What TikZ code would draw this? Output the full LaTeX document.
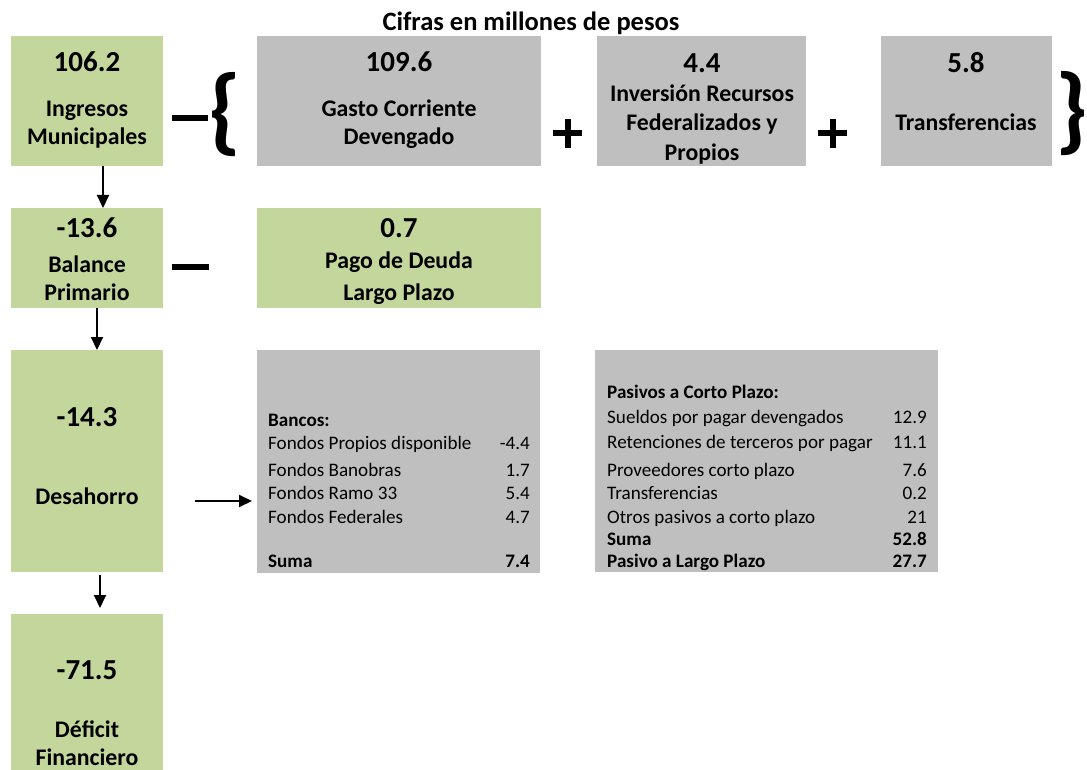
\documentclass[tikz,border=0pt]{standalone}
\usepackage{fontspec}
\setmainfont{Carlito}
\usetikzlibrary{arrows.meta}
\definecolor{boxgreen}{HTML}{C3D69B}
\definecolor{boxgray}{HTML}{BFBFBF}
\begin{document}
\begin{tikzpicture}[x=1pt,y=-1pt,
  box/.style={draw=none, inner sep=0pt, outer sep=0pt, anchor=north west},
  gbox/.style={box, fill=boxgreen},
  ybox/.style={box, fill=boxgray},
  txt/.style={inner sep=0pt, text depth=0pt},
  num/.style={txt, text height=18.6pt, font=\bfseries\fontsize{29}{34}\selectfont},
  lab/.style={txt, text height=15.3pt, font=\bfseries\fontsize{23.8}{28}\selectfont},
  ttl/.style={txt, text height=17pt, font=\bfseries\fontsize{26.5}{30}\selectfont},
  tb/.style={txt, text height=12.3pt, font=\fontsize{19.1}{23}\selectfont},
  tbb/.style={txt, text height=12.3pt, font=\bfseries\fontsize{19.1}{23}\selectfont},
  brc/.style={inner sep=0pt, font=\bfseries\fontsize{96}{96}\selectfont},
  arr/.style={line width=2pt, -{Triangle[length=13pt,width=12pt]}},
  sign/.style={line width=6pt},
]
\useasboundingbox (0,0) rectangle (1087,770);

% title
\node[ttl] (title) at (531,22) {Cifras en millones de pesos};

% top row
\node[gbox, minimum width=152pt, minimum height=130pt] (b1) at (11,36) {};
\node[num] (b1n) at (87,62) {106.2};
\node[lab] (b1a) at (87,109) {Ingresos};
\node[lab] (b1b) at (87,137) {Municipales};

\draw[sign] (172,118) -- (208,118);
\node[brc] (lbrace) at (225,115) {\makebox[16pt]{\{}};

\node[ybox, minimum width=284pt, minimum height=130pt] (g1) at (257,36) {};
\node[num] (g1n) at (399,62) {109.6};
\node[lab] (g1a) at (399,109) {Gasto Corriente};
\node[lab] (g1b) at (399,137) {Devengado};

\draw[sign] (553,133) -- (582,133) (567.5,119) -- (567.5,148);

\node[ybox, minimum width=209pt, minimum height=130pt] (g2) at (597,36) {};
\node[num] (g2n) at (702,63) {4.4};
\node[lab] (g2a) at (702,94) {Inversión Recursos};
\node[lab] (g2b) at (702,123) {Federalizados y};
\node[lab] (g2c) at (702,153) {Propios};

\draw[sign] (818,133) -- (847,133) (832.5,119) -- (832.5,148);

\node[ybox, minimum width=171pt, minimum height=130pt] (g3) at (881,36) {};
\node[num] (g3n) at (966,63) {5.8};
\node[lab] (g3a) at (966,123) {Transferencias};

\node[brc] (rbrace) at (1072,114) {\makebox[16pt]{\}}};

% second row
\node[gbox, minimum width=152pt, minimum height=100pt] (b2) at (11,208) {};
\node[num] (b2n) at (87,228) {-13.6};
\node[lab] (b2a) at (87,265) {Balance};
\node[lab] (b2b) at (87,293) {Primario};

\draw[sign] (172,267) -- (209,267);

\node[gbox, minimum width=284pt, minimum height=100pt] (p1) at (257,208) {};
\node[num] (p1n) at (399,228) {0.7};
\node[lab] (p1a) at (399,261) {Pago de Deuda};
\node[lab] (p1b) at (399,293) {Largo Plazo};

% third row
\node[gbox, minimum width=152pt, minimum height=222pt] (b3) at (11,350) {};
\node[num] (b3n) at (87,417) {-14.3};
\node[lab] (b3a) at (87,497) {Desahorro};

\node[ybox, minimum width=283pt, minimum height=223pt] (bk) at (257,350) {};
\node[tbb, anchor=west] (bk0) at (268,420) {Bancos:};
\node[tb, anchor=west] (bk1) at (268,443) {Fondos Propios disponible};
\node[tb, anchor=east] (bk1v) at (530,443) {-4.4};
\node[tb, anchor=west] (bk2) at (268,470) {Fondos Banobras};
\node[tb, anchor=east] (bk2v) at (530,470) {1.7};
\node[tb, anchor=west] (bk3) at (268,493) {Fondos Ramo 33};
\node[tb, anchor=east] (bk3v) at (530,493) {5.4};
\node[tb, anchor=west] (bk4) at (268,517) {Fondos Federales};
\node[tb, anchor=east] (bk4v) at (530,517) {4.7};
\node[tbb, anchor=west] (bk5) at (268,561) {Suma};
\node[tbb, anchor=east] (bk5v) at (530,561) {7.4};

\node[ybox, minimum width=343pt, minimum height=222pt] (pv) at (595,350) {};
\node[tbb, anchor=west] (pv0) at (607,392) {Pasivos a Corto Plazo:};
\node[tb, anchor=west] (pv1) at (607,417) {Sueldos por pagar devengados};
\node[tb, anchor=east] (pv1v) at (927,417) {12.9};
\node[tb, anchor=west] (pv2) at (607,442) {Retenciones de terceros por pagar};
\node[tb, anchor=east] (pv2v) at (927,442) {11.1};
\node[tb, anchor=west] (pv3) at (607,470) {Proveedores corto plazo};
\node[tb, anchor=east] (pv3v) at (927,470) {7.6};
\node[tb, anchor=west] (pv4) at (607,493) {Transferencias};
\node[tb, anchor=east] (pv4v) at (927,493) {0.2};
\node[tb, anchor=west] (pv5) at (607,517) {Otros pasivos a corto plazo};
\node[tb, anchor=east] (pv5v) at (927,517) {21};
\node[tbb, anchor=west] (pv6) at (607,539) {Suma};
\node[tbb, anchor=east] (pv6v) at (927,539) {52.8};
\node[tbb, anchor=west] (pv7) at (607,561) {Pasivo a Largo Plazo};
\node[tbb, anchor=east] (pv7v) at (927,561) {27.7};

% fourth row
\node[gbox, minimum width=152pt, minimum height=156pt] (b4) at (11,614) {};
\node[num] (b4n) at (87,670) {-71.5};
\node[lab] (b4a) at (87,730) {Déficit};
\node[lab] (b4b) at (87,758) {Financiero};

% arrows
\coordinate (ax1) at (103,0);
\coordinate (ax2) at (97,0);
\coordinate (ax3) at (100,0);
\coordinate (ay4) at (0,501);
\draw[arr] (b1.south -| ax1) -- (b2.north -| ax1);
\draw[arr] (b2.south -| ax2) -- (b3.north -| ax2);
\draw[arr, shorten <=3pt, shorten >=6pt] (b3.south -| ax3) -- (b4.north -| ax3);
\draw[arr, shorten <=32pt, shorten >=5pt] (b3.east |- ay4) -- (bk.west |- ay4);
\end{tikzpicture}
\end{document}
